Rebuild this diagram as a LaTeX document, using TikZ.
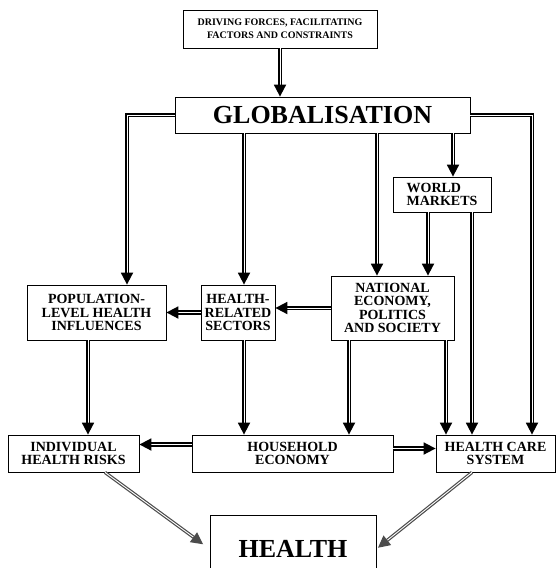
\documentclass[tikz,border=0pt]{standalone}
\usepackage{fontspec}
\setmainfont{Liberation Serif}
\usetikzlibrary{arrows.meta,calc}

\tikzset{
  box/.style={draw,line width=0.8pt,align=center,inner sep=0pt,
    font=\bfseries\fontsize{14}{13.5}\selectfont},
  bigbox/.style={box,font=\bfseries\fontsize{26}{28}\selectfont},
  dbl/.style={double,double distance=0.9pt,line width=1.8pt,
    -{Triangle[length=12pt,width=12pt]}},
  gdbl/.style={dbl,draw=black!70,line width=1.2pt},
}

\begin{document}
\begin{tikzpicture}[x=1pt,y=-1pt]
\useasboundingbox (0,0) rectangle (556,568);

% Top
\node[box,minimum width=194,minimum height=38,font=\bfseries\fontsize{10}{13}\selectfont] (drive) at (280,29) {DRIVING FORCES, FACILITATING\\FACTORS AND CONSTRAINTS};
\node[bigbox,minimum width=295,minimum height=36] (glob) at (322.5,115) {GLOBALISATION};
\draw[dbl] (drive.south) -- (drive.south |- glob.north);

% Middle row
\node[box,align=left,minimum width=98,minimum height=35] (wm) at (442,194.5) {WORLD\\MARKETS};
\node[box,minimum width=123,minimum height=64] (nat) at (392.5,308) {NATIONAL\\ECONOMY,\\POLITICS\\AND SOCIETY};
\node[box,minimum width=74,minimum height=55] (hrs) at (238,312.5) {HEALTH-\\RELATED\\SECTORS};
\node[box,minimum width=139,minimum height=55] (pop) at (96.5,312.5) {POPULATION-\\LEVEL HEALTH\\INFLUENCES};

% Bottom row
\node[box,minimum width=131,minimum height=37] (ind) at (73.5,453.5) {INDIVIDUAL\\HEALTH RISKS};
\node[box,minimum width=201,minimum height=37] (hh) at (292.5,453.5) {HOUSEHOLD\\ECONOMY};
\node[box,minimum width=119,minimum height=37] (hcs) at (495.5,453.5) {HEALTH CARE\\SYSTEM};
\node[bigbox,minimum width=166,minimum height=68] (health) at (293,549) {HEALTH};

% Arrow columns
\coordinate (popin) at ($(pop.north)+(30.5,0)$);
\coordinate (hrsin) at ($(hrs.north)+(6,0)$);
\coordinate (natin) at ($(nat.north)+(-15.5,0)$);
\coordinate (wmin) at ($(wm.north)+(11,0)$);
\coordinate (hcsin) at ($(hcs.north)+(36.5,0)$);
\coordinate (wmnat) at ($(wm.south)+(-14,0)$);
\coordinate (wmhcs) at ($(hcs.north)+(-23.5,0)$);
\coordinate (popout) at ($(pop.south)+(-8.5,0)$);
\coordinate (hrsout) at ($(hrs.south)+(6,0)$);
\coordinate (nathh) at ($(nat.south)+(-43.5,0)$);
\coordinate (nathcs) at ($(nat.south)+(53.5,0)$);
\coordinate (hhind) at ($(hh.west)+(0,-9)$);
\coordinate (hhhcs) at ($(hh.east)+(0,-5)$);
\coordinate (indout) at ($(ind.south)+(31.5,0)$);
\coordinate (hcsout) at ($(hcs.south)+(-23.5,0)$);

% From globalisation
\draw[dbl] (glob.west) -| (popin);
\draw[dbl] (hrsin |- glob.south) -- (hrsin);
\draw[dbl] (natin |- glob.south) -- (natin);
\draw[dbl] (wmin |- glob.south) -- (wmin);
\draw[dbl] (glob.east) -| (hcsin);

% World markets
\draw[dbl] (wmnat) -- (wmnat |- nat.north);
\draw[dbl] (wmhcs |- wm.south) -- (wmhcs);

% Sideways
\draw[dbl] (nat.west) -- (nat.west -| hrs.east);
\draw[dbl] (hrs.west) -- (hrs.west -| pop.east);

% Down to bottom row
\draw[dbl] (popout) -- (popout |- ind.north);
\draw[dbl] (hrsout) -- (hrsout |- hh.north);
\draw[dbl] (nathh) -- (nathh |- hh.north);
\draw[dbl] (nathcs) -- (nathcs |- hcs.north);
\draw[dbl] (hhind) -- (hhind -| ind.east);
\draw[dbl] (hhhcs) -- (hhhcs -| hcs.west);

% To health
\draw[gdbl,shorten >=8pt] (indout) -- (health.west);
\draw[gdbl,shorten >=2pt] (hcsout) -- (health.east);
\end{tikzpicture}
\end{document}
